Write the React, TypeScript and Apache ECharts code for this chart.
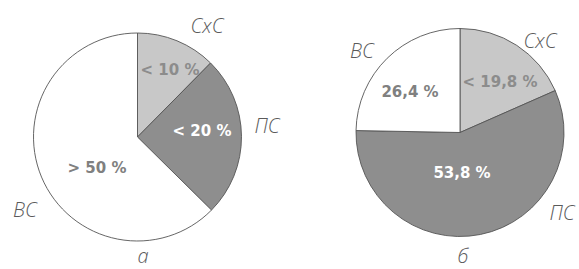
import React, { useEffect, useRef } from "react";
import * as echarts from "echarts";

const categories = ["СхС", "ПС", "ВС"];
const valuesA = [12.4, 25.0, 62.6];
const labelsA = ["< 10 %", "< 20 %", "> 50 %"];
const valuesB = [18.4, 56.9, 24.7];
const labelsB = ["< 19,8 %", "53,8 %", "26,4 %"];
const captions = ["а", "б"];

const fills = ["#c8c8c8", "#8e8e8e", "#ffffff"];
const innerColors = ["#8c8c8c", "#ffffff", "#808080"];

// inner label positions per chart (pixel positions)
const innerPosA = [[170, 70], [202, 131], [97, 168]];
const innerPosB = [[500, 82], [462, 173], [410, 92]];

export default function App() {
  const ref = useRef<HTMLDivElement>(null);
  useEffect(() => {
    if (!ref.current) return;
    const chart = echarts.init(ref.current, null, { renderer: "svg" });
    const mk = (vals: number[], labs: string[], center: number[], pos: number[][]) => ({
      type: "pie",
      center,
      radius: 104,
      startAngle: 90,
      clockwise: true,
      silent: true,
      data: categories.map((c, i) => ({
        name: c,
        value: vals[i],
        itemStyle: { color: fills[i] },
        label: { color: innerColors[i] },
      })),
      itemStyle: { borderColor: "#555", borderWidth: 0.9 },
      label: {
        show: true,
        position: "inside",
        formatter: (p: any) => labs[p.dataIndex],
        fontFamily: "DejaVu Sans",
        fontWeight: "bold",
        fontSize: 15,
      },
      labelLine: { show: false },
      labelLayout: (p: any) => ({ x: pos[p.dataIndex][0], y: pos[p.dataIndex][1], align: "center", verticalAlign: "middle" }),
    });
    const nameStyle = { fontFamily: "Open Sans", fontStyle: "italic", fontWeight: 300, fontSize: 20, fill: "#5a5a5a", textAlign: "center", textVerticalAlign: "middle" };
    const outer = [
      { t: categories[0], x: 207, y: 25 },
      { t: categories[1], x: 267, y: 125 },
      { t: categories[2], x: 25, y: 209 },
      { t: categories[2], x: 362, y: 50 },
      { t: categories[0], x: 540, y: 40 },
      { t: categories[1], x: 562, y: 212 },
      { t: captions[0], x: 143, y: 255 },
      { t: captions[1], x: 463, y: 255 },
    ];
    chart.setOption({
      animation: false,
      backgroundColor: "#ffffff",
      series: [
        mk(valuesA, labelsA, [137.5, 137], innerPosA),
        mk(valuesB, labelsB, [460, 132.5], innerPosB),
      ],
      graphic: outer.map((o) => ({
        type: "text",
        x: o.x,
        y: o.y,
        style: { ...nameStyle, text: o.t },
      })),
    });
    return () => chart.dispose();
  }, []);
  return <div ref={ref} style={{ width: 579, height: 269, position: "absolute", left: 0, top: 0 }} />;
}
